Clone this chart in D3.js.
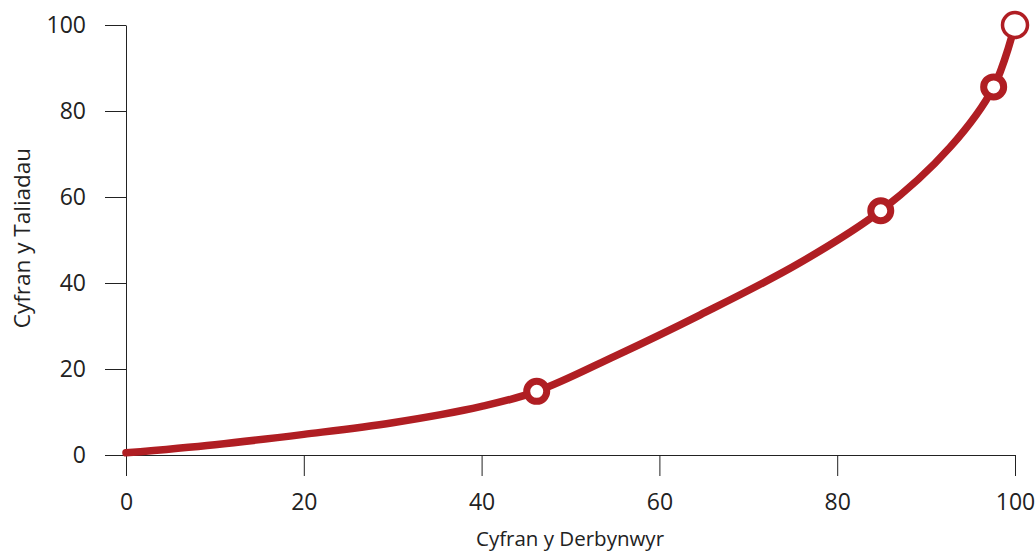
<!DOCTYPE html>
<html>
<head>
<meta charset="utf-8">
<script src="https://cdn.jsdelivr.net/npm/d3@7"></script>
<style>
body { margin: 0; background: #fff; }
text { font-family: "Open Sans", "Liberation Sans", sans-serif; fill: #222; }
</style>
</head>
<body>
<svg id="chart" width="1036" height="556"></svg>
<script>
// Data
const curveX = [0, 10, 20, 30, 40, 46.2, 55, 64.6, 75.8, 84.9, 92.7, 97.6, 100];
const curveY = [0.5, 2.4, 4.8, 7.5, 11.3, 14.8, 23.0, 32.6, 44.7, 56.8, 71.6, 85.6, 100];
const markerX = [46.2, 84.9, 97.6];
const markerY = [14.8, 56.8, 85.6];
const endX = [100];
const endY = [100];
const xTicks = [0, 20, 40, 60, 80, 100];
const yTicks = [0, 20, 40, 60, 80, 100];
const xTitle = "Cyfran y Derbynwyr";
const yTitle = "Cyfran y Taliadau";

const svg = d3.select("#chart");
const x = d3.scaleLinear().domain([0, 100]).range([126, 1015]);
const y = d3.scaleLinear().domain([0, 100]).range([455, 25]);
const red = "#b01e23";

const xAxis = svg.append("g").attr("transform", "translate(0,455)")
  .call(d3.axisBottom(x).tickValues(xTicks).tickSize(21).tickSizeOuter(0).tickPadding(18));
const yAxis = svg.append("g").attr("transform", "translate(126,0)")
  .call(d3.axisLeft(y).tickValues(yTicks).tickSize(21).tickSizeOuter(0).tickPadding(19));
[xAxis, yAxis].forEach(g => {
  g.selectAll("path, line").attr("stroke", "#222").attr("stroke-width", 1);
  g.selectAll("text").attr("font-size", 23).attr("fill", "#222")
    .style("font-family", "'Open Sans', sans-serif");
});
xAxis.selectAll("text").attr("dy", "0.71em");

svg.append("text").attr("x", 570).attr("y", 546).attr("text-anchor", "middle")
  .attr("font-size", 20.5).text(xTitle);
svg.append("text").attr("transform", "translate(30,238) rotate(-90)")
  .attr("text-anchor", "middle").attr("font-size", 22.5).text(yTitle);

const pts = curveX.map((d, i) => [d, curveY[i]]);
svg.append("path").datum(pts)
  .attr("d", d3.line().x(d => x(d[0])).y(d => y(d[1])).curve(d3.curveCatmullRom.alpha(0.5)))
  .attr("fill", "none").attr("stroke", red).attr("stroke-width", 7.5).attr("stroke-linecap", "round");

svg.selectAll("circle.m").data(markerX.map((d, i) => [d, markerY[i]])).enter()
  .append("circle").attr("class", "m")
  .attr("cx", d => x(d[0])).attr("cy", d => y(d[1])).attr("r", 10)
  .attr("fill", "#fff").attr("stroke", red).attr("stroke-width", 7);

svg.selectAll("circle.e").data(endX.map((d, i) => [d, endY[i]])).enter()
  .append("circle").attr("class", "e")
  .attr("cx", d => x(d[0])).attr("cy", d => y(d[1])).attr("r", 12.5)
  .attr("fill", "#fff").attr("stroke", red).attr("stroke-width", 3.5);
</script>
</body>
</html>
